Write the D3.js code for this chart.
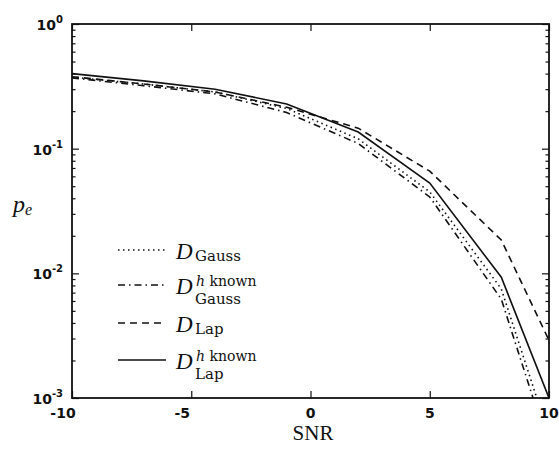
<!DOCTYPE html>
<html>
<head>
<meta charset="utf-8">
<script src="https://cdn.jsdelivr.net/npm/d3@7"></script>
<style>
  body { margin: 0; background: #fff; }
</style>
</head>
<body>
<svg id="chart" width="559" height="450"></svg>
<script>
var snr = [ -10, -7, -4, -1, 2, 5, 8, 10 ];

// error probability p_e for each detector
var peGauss      = [ 0.375, 0.33, 0.285, 0.21, 0.12, 0.045, 0.0075, 0.0005 ];
var peGaussKnown = [ 0.37, 0.32, 0.275, 0.195, 0.11, 0.041, 0.0062, 0.0004 ];
var peLap        = [ 0.378, 0.33, 0.285, 0.215, 0.146, 0.066, 0.0185, 0.0029 ];
var peLapKnown   = [ 0.40, 0.35, 0.30, 0.228, 0.136, 0.053, 0.0093, 0.001 ];

var xTicks = [ -10, -5, 0, 5, 10 ];
var yDecades = [ -3, -2, -1, 0 ];

var series = [
    { values: peGauss,      dash: "1.5,3.5",   sub: "Gauss", sup: null },
    { values: peGaussKnown, dash: "7,4,1.5,4", sub: "Gauss", sup: "h known" },
    { values: peLap,        dash: "7,5",       sub: "Lap",   sup: null },
    { values: peLapKnown,   dash: null,        sub: "Lap",   sup: "h known" }
];

var svg = d3.select( "#chart" );

var x = d3.scaleLinear().domain( [-10, 10] ).range( [72, 549] );
var y = d3.scaleLog().domain( [1e-3, 1] ).range( [398, 24] );

// clip the curves to the plot box (the gaussian ones dive below 10^-3)
svg.append( "clipPath" ).attr( "id", "box" )
    .append( "rect" ).attr( "x", 72 ).attr( "y", 24 )
    .attr( "width", 549 - 72 ).attr( "height", 398 - 24 );

var line = d3.line()
    .x( d => x( d[0] ) )
    .y( d => y( d[1] ) );

svg.append( "g" ).attr( "clip-path", "url(#box)" )
    .selectAll( "path" ).data( series ).enter().append( "path" )
    .attr( "d", s => line( snr.map( (v,i) => [v, s.values[i]] ) ) )
    .attr( "fill", "none" ).attr( "stroke", "#111" )
    .attr( "stroke-width", 1.6 )
    .attr( "stroke-dasharray", s => s.dash );

// axes: ticks point inward on all four sides, labels drawn by hand
function noLabels( g ) {
    g.selectAll( "text" ).remove();
    g.select( ".domain" ).remove();
    g.selectAll( "line" ).attr( "stroke", "#111" ).attr( "stroke-width", 1.2 );
}

var minor = y.ticks().filter( v => Math.abs( Math.log10( v ) % 1 ) > 1e-6 );
var major = yDecades.map( e => Math.pow( 10, e ) );

svg.append( "g" ).attr( "transform", "translate(0,398)" )
    .call( d3.axisBottom( x ).tickValues( xTicks ).tickSize( -7 ) ).call( noLabels );
svg.append( "g" ).attr( "transform", "translate(0,24)" )
    .call( d3.axisTop( x ).tickValues( xTicks ).tickSize( -7 ) ).call( noLabels );
svg.append( "g" ).attr( "transform", "translate(72,0)" )
    .call( d3.axisLeft( y ).tickValues( major ).tickSize( -7 ) ).call( noLabels );
svg.append( "g" ).attr( "transform", "translate(72,0)" )
    .call( d3.axisLeft( y ).tickValues( minor ).tickSize( -3.5 ) ).call( noLabels );
svg.append( "g" ).attr( "transform", "translate(549,0)" )
    .call( d3.axisRight( y ).tickValues( major ).tickSize( -7 ) ).call( noLabels );
svg.append( "g" ).attr( "transform", "translate(549,0)" )
    .call( d3.axisRight( y ).tickValues( minor ).tickSize( -3.5 ) ).call( noLabels );

// plot frame
svg.append( "rect" ).attr( "x", 72 ).attr( "y", 24 )
    .attr( "width", 549 - 72 ).attr( "height", 398 - 24 )
    .attr( "fill", "none" ).attr( "stroke", "#111" ).attr( "stroke-width", 1.8 );

// x tick labels
svg.append( "g" ).selectAll( "text" ).data( xTicks ).enter().append( "text" )
    .attr( "x", d => x( d ) + ( d < 0 ? -9 : 0 ) ).attr( "y", 418 )
    .attr( "text-anchor", "middle" )
    .attr( "font-family", "DejaVu Sans" ).attr( "font-size", 14 ).attr( "font-weight", "bold" )
    .attr( "fill", "#111" )
    .text( d => d );

// y tick labels as 10^n
var yLab = svg.append( "g" ).selectAll( "text" ).data( yDecades ).enter().append( "text" )
    .attr( "x", 63 ).attr( "y", d => y( Math.pow( 10, d ) ) + 6 )
    .attr( "text-anchor", "end" )
    .attr( "font-family", "DejaVu Sans" ).attr( "font-size", 14 ).attr( "font-weight", "bold" )
    .attr( "fill", "#111" );
yLab.append( "tspan" ).text( "10" );
yLab.append( "tspan" ).attr( "dy", -7 ).attr( "font-size", 10 ).text( d => d );

// axis titles
svg.append( "text" ).attr( "x", 313 ).attr( "y", 440 )
    .attr( "text-anchor", "middle" )
    .attr( "font-family", "Liberation Serif" ).attr( "font-size", 21 )
    .attr( "fill", "#111" ).text( "SNR" );
svg.append( "text" ).attr( "x", 13 ).attr( "y", 212 )
    .attr( "font-family", "Liberation Serif" ).attr( "font-style", "italic" ).attr( "font-size", 24 )
    .attr( "fill", "#111" )
    .text( "p" )
    .append( "tspan" ).attr( "dy", 3 ).attr( "font-size", 16 ).text( "e" );

// legend: one row per detector
var legendY = [ 250, 285, 323, 360 ];
var legend = svg.append( "g" ).selectAll( "g" ).data( series ).enter().append( "g" )
    .attr( "transform", (d,i) => "translate(118," + legendY[i] + ")" );

legend.append( "line" ).attr( "x1", 0 ).attr( "x2", 48 )
    .attr( "stroke", "#111" ).attr( "stroke-width", 1.6 )
    .attr( "stroke-dasharray", d => d.dash );

// big italic D
legend.append( "text" ).attr( "x", 58 ).attr( "y", 9 )
    .attr( "font-family", "Liberation Serif" ).attr( "font-style", "italic" ).attr( "font-size", 23 )
    .attr( "fill", "#111" ).text( "D" );

// superscript "h known" where the channel is known
legend.filter( d => d.sup ).append( "text" ).attr( "x", 78 ).attr( "y", 1 )
    .attr( "font-family", "DejaVu Serif" ).attr( "font-size", 14 ).attr( "fill", "#111" )
    .html( "<tspan font-style='italic'>h</tspan> known" );

// subscript name
legend.append( "text" ).attr( "x", 77 ).attr( "y", d => d.sup ? 19 : 11 )
    .attr( "font-family", "DejaVu Serif" ).attr( "font-size", 15 ).attr( "fill", "#111" )
    .text( d => d.sub );
</script>
</body>
</html>
